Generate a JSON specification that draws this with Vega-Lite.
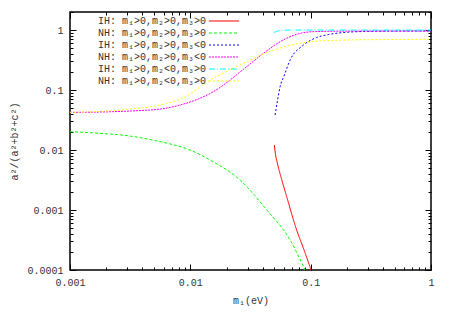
{
  "$schema": "https://vega.github.io/schema/vega-lite/v6.json",
  "width": 361,
  "height": 258,
  "autosize": {"type": "none"},
  "padding": {"left": 70, "top": 12, "right": 19, "bottom": 45},
  "background": "white",
  "config": {
    "view": {"stroke": "black", "strokeWidth": 1.5},
    "font": "Liberation Mono",
    "axis": {"grid": false, "domain": false, "tickColor": "black", "tickWidth": 1, "labelFont": "Liberation Mono", "labelFontSize": 10, "labelColor": "#333", "titleFont": "Liberation Mono", "titleFontSize": 10, "titleFontWeight": "normal", "titleColor": "#333", "labelOverlap": false, "labelBound": false, "labelFlush": false}
  },
  "data": {
    "values": [
      {"s": "IH: m₁>0,m₂>0,m₃>0", "m": 0.0499, "v": 0.0121},
      {"s": "IH: m₁>0,m₂>0,m₃>0", "m": 0.0511, "v": 0.0083},
      {"s": "IH: m₁>0,m₂>0,m₃>0", "m": 0.0528, "v": 0.0061},
      {"s": "IH: m₁>0,m₂>0,m₃>0", "m": 0.0575, "v": 0.0032},
      {"s": "IH: m₁>0,m₂>0,m₃>0", "m": 0.0633, "v": 0.00165},
      {"s": "IH: m₁>0,m₂>0,m₃>0", "m": 0.0766, "v": 0.00046},
      {"s": "IH: m₁>0,m₂>0,m₃>0", "m": 0.0881, "v": 0.000216},
      {"s": "IH: m₁>0,m₂>0,m₃>0", "m": 0.1007, "v": 0.0001},
      {"s": "NH: m₁>0,m₂>0,m₃>0", "m": 0.001, "v": 0.0202},
      {"s": "NH: m₁>0,m₂>0,m₃>0", "m": 0.00177, "v": 0.019},
      {"s": "NH: m₁>0,m₂>0,m₃>0", "m": 0.00316, "v": 0.0171},
      {"s": "NH: m₁>0,m₂>0,m₃>0", "m": 0.0056, "v": 0.0138},
      {"s": "NH: m₁>0,m₂>0,m₃>0", "m": 0.00994, "v": 0.01},
      {"s": "NH: m₁>0,m₂>0,m₃>0", "m": 0.0146, "v": 0.0068},
      {"s": "NH: m₁>0,m₂>0,m₃>0", "m": 0.0259, "v": 0.00316},
      {"s": "NH: m₁>0,m₂>0,m₃>0", "m": 0.0432, "v": 0.001},
      {"s": "NH: m₁>0,m₂>0,m₃>0", "m": 0.0675, "v": 0.000316},
      {"s": "NH: m₁>0,m₂>0,m₃>0", "m": 0.0897, "v": 0.0001},
      {"s": "IH: m₁>0,m₂>0,m₃<0", "m": 0.0506, "v": 0.0383},
      {"s": "IH: m₁>0,m₂>0,m₃<0", "m": 0.0531, "v": 0.068},
      {"s": "IH: m₁>0,m₂>0,m₃<0", "m": 0.0557, "v": 0.1135},
      {"s": "IH: m₁>0,m₂>0,m₃<0", "m": 0.06, "v": 0.17},
      {"s": "IH: m₁>0,m₂>0,m₃<0", "m": 0.0675, "v": 0.316},
      {"s": "IH: m₁>0,m₂>0,m₃<0", "m": 0.0869, "v": 0.56},
      {"s": "IH: m₁>0,m₂>0,m₃<0", "m": 0.112, "v": 0.75},
      {"s": "IH: m₁>0,m₂>0,m₃<0", "m": 0.14, "v": 0.84},
      {"s": "IH: m₁>0,m₂>0,m₃<0", "m": 0.2, "v": 0.92},
      {"s": "IH: m₁>0,m₂>0,m₃<0", "m": 0.3, "v": 0.95},
      {"s": "IH: m₁>0,m₂>0,m₃<0", "m": 0.5, "v": 0.962},
      {"s": "IH: m₁>0,m₂>0,m₃<0", "m": 1, "v": 0.965},
      {"s": "NH: m₁>0,m₂>0,m₃<0", "m": 0.001, "v": 0.0425},
      {"s": "NH: m₁>0,m₂>0,m₃<0", "m": 0.00177, "v": 0.043},
      {"s": "NH: m₁>0,m₂>0,m₃<0", "m": 0.00316, "v": 0.0447},
      {"s": "NH: m₁>0,m₂>0,m₃<0", "m": 0.0056, "v": 0.0482},
      {"s": "NH: m₁>0,m₂>0,m₃<0", "m": 0.0082, "v": 0.0562},
      {"s": "NH: m₁>0,m₂>0,m₃<0", "m": 0.0155, "v": 0.0937},
      {"s": "NH: m₁>0,m₂>0,m₃<0", "m": 0.0294, "v": 0.245},
      {"s": "NH: m₁>0,m₂>0,m₃<0", "m": 0.0405, "v": 0.409},
      {"s": "NH: m₁>0,m₂>0,m₃<0", "m": 0.0557, "v": 0.638},
      {"s": "NH: m₁>0,m₂>0,m₃<0", "m": 0.0766, "v": 0.85},
      {"s": "NH: m₁>0,m₂>0,m₃<0", "m": 0.105, "v": 0.94},
      {"s": "NH: m₁>0,m₂>0,m₃<0", "m": 0.2, "v": 0.96},
      {"s": "NH: m₁>0,m₂>0,m₃<0", "m": 1, "v": 0.965},
      {"s": "IH: m₁>0,m₂<0,m₃>0", "m": 0.0495, "v": 0.91},
      {"s": "IH: m₁>0,m₂<0,m₃>0", "m": 0.052, "v": 0.95},
      {"s": "IH: m₁>0,m₂<0,m₃>0", "m": 0.056, "v": 0.98},
      {"s": "IH: m₁>0,m₂<0,m₃>0", "m": 0.062, "v": 0.995},
      {"s": "IH: m₁>0,m₂<0,m₃>0", "m": 0.07, "v": 1},
      {"s": "IH: m₁>0,m₂<0,m₃>0", "m": 0.1, "v": 1},
      {"s": "IH: m₁>0,m₂<0,m₃>0", "m": 0.3, "v": 1},
      {"s": "IH: m₁>0,m₂<0,m₃>0", "m": 1, "v": 1},
      {"s": "NH: m₁>0,m₂<0,m₃>0", "m": 0.001, "v": 0.0425},
      {"s": "NH: m₁>0,m₂<0,m₃>0", "m": 0.00177, "v": 0.0439},
      {"s": "NH: m₁>0,m₂<0,m₃>0", "m": 0.003, "v": 0.0477},
      {"s": "NH: m₁>0,m₂<0,m₃>0", "m": 0.0056, "v": 0.0562},
      {"s": "NH: m₁>0,m₂<0,m₃>0", "m": 0.0082, "v": 0.07},
      {"s": "NH: m₁>0,m₂<0,m₃>0", "m": 0.0155, "v": 0.157},
      {"s": "NH: m₁>0,m₂<0,m₃>0", "m": 0.0294, "v": 0.296},
      {"s": "NH: m₁>0,m₂<0,m₃>0", "m": 0.0405, "v": 0.4},
      {"s": "NH: m₁>0,m₂<0,m₃>0", "m": 0.0557, "v": 0.5},
      {"s": "NH: m₁>0,m₂<0,m₃>0", "m": 0.08, "v": 0.6},
      {"s": "NH: m₁>0,m₂<0,m₃>0", "m": 0.105, "v": 0.645},
      {"s": "NH: m₁>0,m₂<0,m₃>0", "m": 0.15, "v": 0.67},
      {"s": "NH: m₁>0,m₂<0,m₃>0", "m": 0.3, "v": 0.69},
      {"s": "NH: m₁>0,m₂<0,m₃>0", "m": 1, "v": 0.7}
    ]
  },
  "layer": [
    {
      "mark": {"type": "line", "strokeWidth": 1, "interpolate": "monotone", "clip": true},
      "encoding": {
        "x": {
          "field": "m", "type": "quantitative",
          "scale": {"type": "log", "domain": [0.001, 1], "nice": false},
          "axis": {
            "orient": "bottom", "title": "m₁(eV)", "titlePadding": 5,
            "values": [0.001,0.002,0.003,0.004,0.005,0.006,0.007,0.008,0.009,0.01,0.02,0.03,0.04,0.05,0.06,0.07,0.08,0.09,0.1,0.2,0.3,0.4,0.5,0.6,0.7,0.8,0.9,1],
            "format": "~g",
            "labelExpr": "abs(log(datum.value)/LN10 - round(log(datum.value)/LN10)) < 0.001 ? datum.label : ''",
            "tickSize": {"condition": {"test": "abs(log(datum.value)/LN10 - round(log(datum.value)/LN10)) < 0.001", "value": -6}, "value": -3},
            "labelPadding": 13
          }
        },
        "y": {
          "field": "v", "type": "quantitative",
          "scale": {"type": "log", "domain": [0.0001, 2], "nice": false},
          "axis": {
            "orient": "left", "title": "a²/(a²+b²+c²)", "titlePadding": 7,
            "values": [0.0001,0.0002,0.0003,0.0004,0.0005,0.0006,0.0007,0.0008,0.0009,0.001,0.002,0.003,0.004,0.005,0.006,0.007,0.008,0.009,0.01,0.02,0.03,0.04,0.05,0.06,0.07,0.08,0.09,0.1,0.2,0.3,0.4,0.5,0.6,0.7,0.8,0.9,1,2],
            "format": "~g",
            "labelExpr": "abs(log(datum.value)/LN10 - round(log(datum.value)/LN10)) < 0.001 ? datum.label : ''",
            "tickSize": {"condition": {"test": "abs(log(datum.value)/LN10 - round(log(datum.value)/LN10)) < 0.001", "value": -6}, "value": -3},
            "labelPadding": 13
          }
        },
        "color": {
          "field": "s", "type": "nominal",
          "scale": {
            "domain": ["IH: m₁>0,m₂>0,m₃>0", "NH: m₁>0,m₂>0,m₃>0", "IH: m₁>0,m₂>0,m₃<0", "NH: m₁>0,m₂>0,m₃<0", "IH: m₁>0,m₂<0,m₃>0", "NH: m₁>0,m₂<0,m₃>0"],
            "range": ["#ff0000", "#00ff00", "#0000ff", "#ff00ff", "#00ffff", "#ffff00"]
          },
          "legend": {
            "orient": "none", "legendX": 148, "legendY": 3, "title": null,
            "symbolType": "M-3,0H3", "symbolSize": 100, "symbolStrokeWidth": 1.2,
            "labelAlign": "right", "labelOffset": -24, "padding": 0, "rowPadding": 1,
            "labelFont": "Liberation Mono", "labelFontSize": 10, "labelColor": "#333", "labelLimit": 0
          }
        },
        "strokeDash": {
          "field": "s", "type": "nominal",
          "scale": {
            "domain": ["IH: m₁>0,m₂>0,m₃>0", "NH: m₁>0,m₂>0,m₃>0", "IH: m₁>0,m₂>0,m₃<0", "NH: m₁>0,m₂>0,m₃<0", "IH: m₁>0,m₂<0,m₃>0", "NH: m₁>0,m₂<0,m₃>0"],
            "range": [[1, 0], [3, 2], [2, 2], [2, 1], [6, 2, 1, 2], [2, 2]]
          },
          "legend": {
            "orient": "none", "legendX": 148, "legendY": 3, "title": null,
            "symbolType": "M-3,0H3", "symbolSize": 100, "symbolStrokeWidth": 1.2,
            "labelAlign": "right", "labelOffset": -24, "padding": 0, "rowPadding": 1,
            "labelFont": "Liberation Mono", "labelFontSize": 10, "labelColor": "#333", "labelLimit": 0
          }
        }
      }
    },
    {
      "mark": {"type": "point", "opacity": 0},
      "encoding": {
        "x": {
          "field": "m", "type": "quantitative",
          "scale": {"type": "log", "domain": [0.001, 1], "nice": false},
          "axis": {
            "orient": "top", "title": null, "labels": false,
            "values": [0.001,0.002,0.003,0.004,0.005,0.006,0.007,0.008,0.009,0.01,0.02,0.03,0.04,0.05,0.06,0.07,0.08,0.09,0.1,0.2,0.3,0.4,0.5,0.6,0.7,0.8,0.9,1],
            "tickSize": {"condition": {"test": "abs(log(datum.value)/LN10 - round(log(datum.value)/LN10)) < 0.001", "value": -6}, "value": -3}
          }
        },
        "y": {
          "field": "v", "type": "quantitative",
          "scale": {"type": "log", "domain": [0.0001, 2], "nice": false},
          "axis": {
            "orient": "right", "title": null, "labels": false,
            "values": [0.0001,0.0002,0.0003,0.0004,0.0005,0.0006,0.0007,0.0008,0.0009,0.001,0.002,0.003,0.004,0.005,0.006,0.007,0.008,0.009,0.01,0.02,0.03,0.04,0.05,0.06,0.07,0.08,0.09,0.1,0.2,0.3,0.4,0.5,0.6,0.7,0.8,0.9,1,2],
            "tickSize": {"condition": {"test": "abs(log(datum.value)/LN10 - round(log(datum.value)/LN10)) < 0.001", "value": -6}, "value": -3}
          }
        }
      }
    }
  ],
  "resolve": {"axis": {"x": "independent", "y": "independent"}}
}
